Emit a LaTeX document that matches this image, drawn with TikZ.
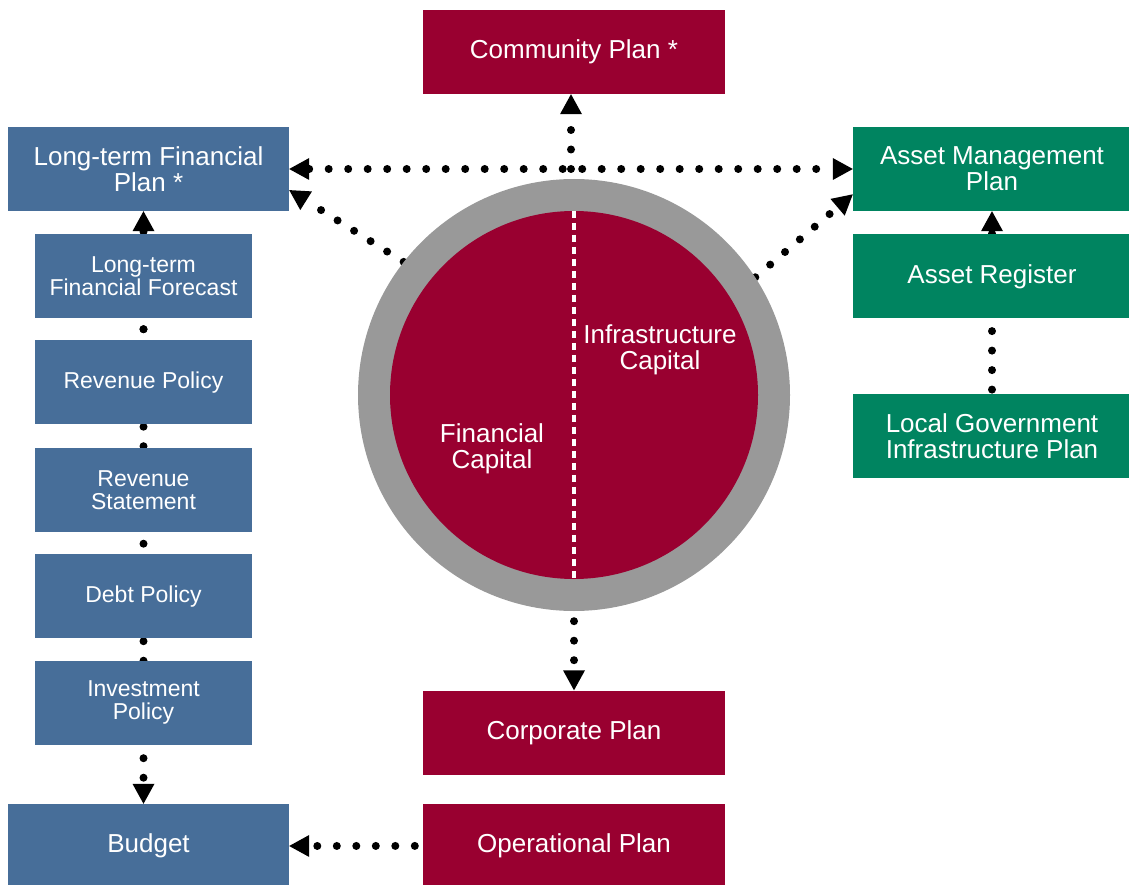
\documentclass[tikz,border=0pt]{standalone}
\usepackage{fontspec}
\setmainfont{Liberation Sans}
\usepackage{tikz}
\usetikzlibrary{arrows.meta,              % pointes de flèches
           calc,                      % Calculs de coordonnées entre $ $
           positioning}
\pgfdeclarelayer{background}
\pgfsetlayers{background,main}
\definecolor{crim}{RGB}{153,0,48}
\definecolor{bleu}{RGB}{71,110,153}
\definecolor{vert}{RGB}{0,132,96}
\definecolor{gris}{RGB}{153,153,153}

\begin{document}
\begin{tikzpicture}[x=1pt,y=-1pt,
  boite/.style={minimum width=#1,minimum height=84pt,inner sep=0pt,align=center,text=white},
  grand/.style={font=\fontsize{26}{26}\selectfont},
  petit/.style={font=\fontsize{23}{23}\selectfont},
  fleche/.style={line width=8pt,line cap=round,dash pattern=on 0pt off 19.5pt},
  >={Triangle[length=20pt,width=22pt,line width=0pt]}]
\useasboundingbox (0,0) rectangle (1129,885);
% le cercle des capitaux
\node[circle,fill=gris,minimum size=432pt,inner sep=0pt](ring) at (574,395) {};
\node[circle,fill=crim,minimum size=368pt,inner sep=0pt](core) at (ring) {};
\draw[white,line width=4pt,dash pattern=on 7pt off 5pt](core.north) -- (core.south);
\node[grand,text=white,align=center](FC) at (492,449) {Financial\\Capital};
\node[grand,text=white,align=center](IC) at (660,350) {Infrastructure\\Capital};
% plans
\node[boite=302pt,grand,fill=crim](CP) at (574,52) {Community Plan *};
\node[boite=281pt,grand,fill=bleu](LTFP) at (148.5,169) {Long-term Financial\\Plan *};
\node[boite=278pt,grand,fill=vert](AMP) at (992,169) {Asset Management\\Plan};
\node[boite=278pt,grand,fill=vert,below=23pt of AMP](AR) {Asset Register};
\node[boite=278pt,grand,fill=vert,below=75pt of AR](LGIP) {Local Government\\Infrastructure Plan};
\node[boite=217pt,petit,fill=bleu](LTFF) at (143.5,276) {Long-term\\Financial Forecast};
\node[boite=217pt,petit,fill=bleu,below=22pt of LTFF](RP) {Revenue Policy};
\node[boite=217pt,petit,fill=bleu,below=23pt of RP](RS) {Revenue\\Statement};
\node[boite=217pt,petit,fill=bleu,below=22pt of RS](DP) {Debt Policy};
\node[boite=217pt,petit,fill=bleu,below=22pt of DP](IP) {Investment\\Policy};
\node[boite=281pt,grand,fill=bleu](B) at (148.5,846) {Budget};
\node[boite=302pt,grand,fill=crim](CorpP) at (574,732.5) {Corporate Plan};
\node[boite=302pt,grand,fill=crim,below=29pt of CorpP](OP) {Operational Plan};
% liens pointillés
\begin{pgfonlayer}{background}
\coordinate (h) at ([xshift=-3pt]CP.south |- LTFP.east);
\draw[fleche,->](h) -- (h |- CP.south);
\draw[fleche,<->](LTFP.east) -- (AMP.west);
\draw[fleche,->](ring.142) -- ($(LTFP.south east)!0.25!(LTFP.north east)$);
\draw[fleche,->](ring.33) -- ($(AMP.south west)!0.2!(AMP.north west)$);
\draw[fleche,->,shorten <=10pt](ring.south) -- (CorpP.north);
\draw[fleche,->,shorten <=8pt](OP.west) -- (B.east);
\coordinate (m) at ($(LTFF.south)!0.5!(RP.north)$);
\draw[fleche,->](m) -- (m |- LTFP.south);
\draw[fleche,->](m) -- (m |- B.north);
\draw[fleche,->,shorten <=4pt](LGIP.north) -- (AMP.south);
\end{pgfonlayer}
\end{tikzpicture}
\end{document}
